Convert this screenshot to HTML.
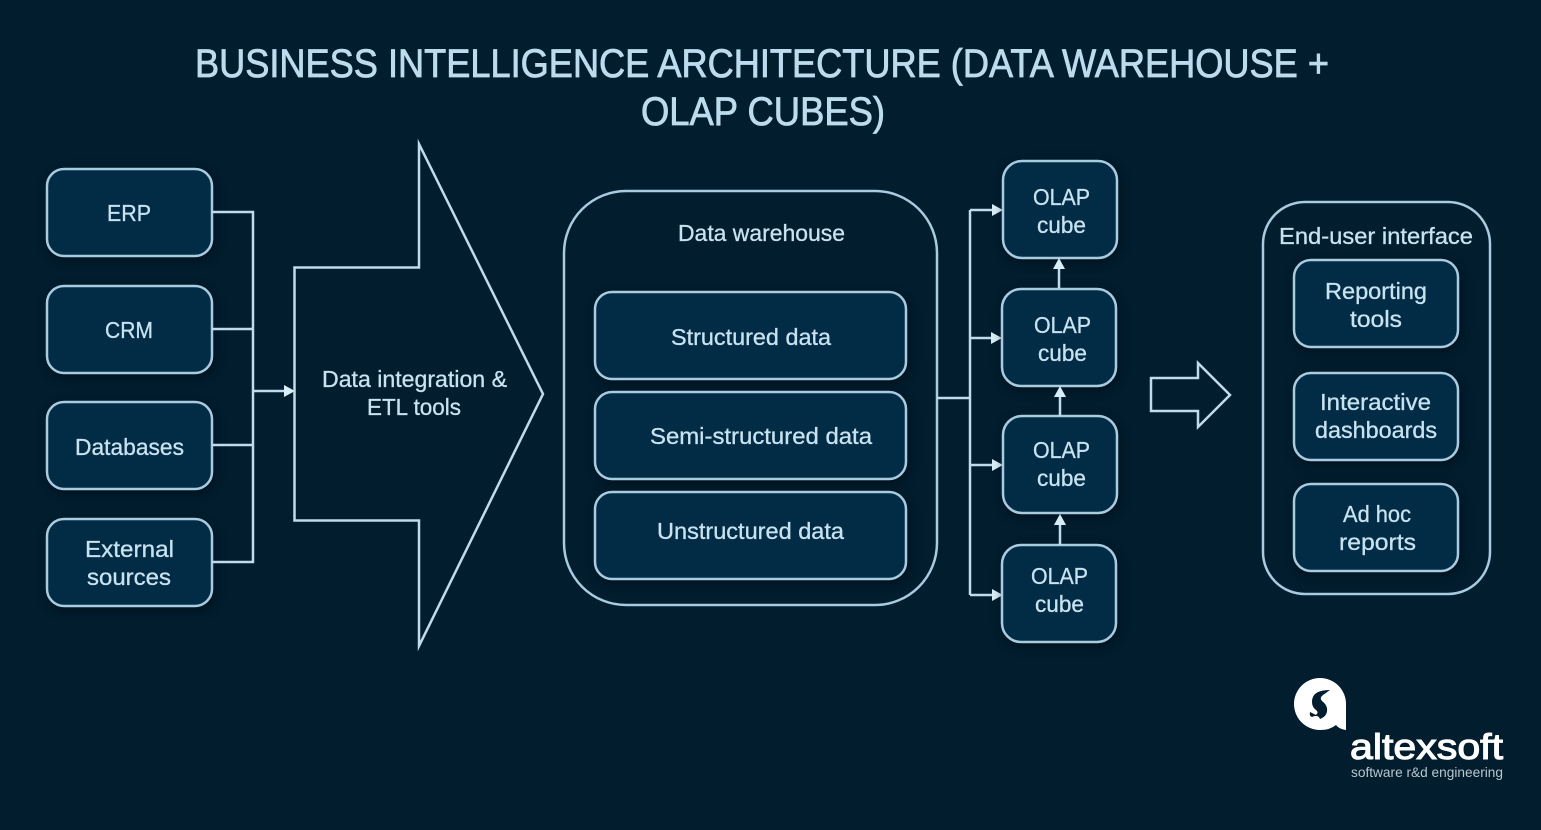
<!DOCTYPE html>
<html lang="en"><head><meta charset="utf-8"><title>Business Intelligence Architecture</title>
<style>
html,body{margin:0;padding:0;background:#011d2e}
svg{display:block}
text{font-family:"Liberation Sans",sans-serif;fill:#c8e2f0;letter-spacing:0}
.l{font-size:23px;text-anchor:start;stroke:#c8e2f0;stroke-width:.3px}
.t{font-size:40px;fill:#bcdcee;stroke:#bcdcee;stroke-width:.8px}
.b{fill:#022c45;stroke:#a9cbdf;stroke-width:2.5;filter:drop-shadow(2px 3px 5px rgba(0,8,16,.55))}
.n{fill:none;stroke:#c0dcec;stroke-width:2.5;stroke-miterlimit:12}
.o{fill:#011d2e;stroke:#a9cbdf;stroke-width:2.5}
.a{fill:#d8edf7}
</style></head>
<body>
<svg width="1541" height="830" viewBox="0 0 1541 830" xmlns="http://www.w3.org/2000/svg">
<rect width="1541" height="830" fill="#011d2e"/>

<text class="t" x="195" y="77" textLength="1134" lengthAdjust="spacingAndGlyphs">BUSINESS INTELLIGENCE ARCHITECTURE (DATA WAREHOUSE +</text>
<text class="t" x="641" y="125" textLength="244" lengthAdjust="spacingAndGlyphs">OLAP CUBES)</text>

<!-- source boxes -->
<rect class="b" x="47" y="169" width="165" height="87" rx="17"/>
<rect class="b" x="47" y="286" width="165" height="87" rx="17"/>
<rect class="b" x="47" y="402" width="165" height="87" rx="17"/>
<rect class="b" x="47" y="519" width="165" height="87" rx="17"/>
<text class="l" x="107" y="221" textLength="44" lengthAdjust="spacingAndGlyphs">ERP</text>
<text class="l" x="105" y="338" textLength="48" lengthAdjust="spacingAndGlyphs">CRM</text>
<text class="l" x="75" y="455" textLength="109" lengthAdjust="spacingAndGlyphs">Databases</text>
<text class="l" x="85" y="557" textLength="89" lengthAdjust="spacingAndGlyphs">External</text>
<text class="l" x="87" y="585" textLength="84" lengthAdjust="spacingAndGlyphs">sources</text>

<path class="n" d="M212 212H253V562H212M212 329H253M212 445H253M253 391H286"/>
<polygon class="a" points="295,391 284,385 284,397"/>

<!-- ETL arrow -->
<polygon class="n" points="294.500,267.500 419,267.500 419,144 543,394 419,646 419,520.500 294.500,520.500"/>
<text class="l" x="322" y="387" textLength="185" lengthAdjust="spacingAndGlyphs">Data integration &amp;</text>
<text class="l" x="367" y="415" textLength="94" lengthAdjust="spacingAndGlyphs">ETL tools</text>

<!-- warehouse -->
<rect class="o" x="564" y="191" width="373" height="414" rx="62"/>
<text class="l" x="678" y="241" textLength="167" lengthAdjust="spacingAndGlyphs">Data warehouse</text>
<rect class="b" x="595" y="292" width="311" height="87" rx="17"/>
<rect class="b" x="595" y="392" width="311" height="87" rx="17"/>
<rect class="b" x="595" y="492" width="311" height="87" rx="17"/>
<text class="l" x="671" y="345" textLength="160" lengthAdjust="spacingAndGlyphs">Structured data</text>
<text class="l" x="650" y="444" textLength="222" lengthAdjust="spacingAndGlyphs">Semi-structured data</text>
<text class="l" x="657" y="539" textLength="187" lengthAdjust="spacingAndGlyphs">Unstructured data</text>

<!-- connectors to cubes -->
<path class="n" d="M937 398H970M970 210V595M970 210H994M970 338H994M970 465H994M970 595H994"/>
<polygon class="a" points="1003,210 992,204 992,216"/>
<polygon class="a" points="1002,338 991,332 991,344"/>
<polygon class="a" points="1003,465 992,459 992,471"/>
<polygon class="a" points="1003,595 992,589 992,601"/>

<!-- cubes -->
<rect class="b" x="1003" y="161" width="114" height="97" rx="19"/>
<rect class="b" x="1002" y="289" width="114" height="97" rx="19"/>
<rect class="b" x="1003" y="416" width="114" height="97" rx="19"/>
<rect class="b" x="1002" y="545" width="114" height="97" rx="19"/>
<path class="n" d="M1059 288V268M1060 416V396M1060 545V524"/>
<polygon class="a" points="1059,258 1053,269 1065,269"/>
<polygon class="a" points="1060,386 1054,397 1066,397"/>
<polygon class="a" points="1060,514 1054,525 1066,525"/>
<text class="l" x="1033" y="205" textLength="57" lengthAdjust="spacingAndGlyphs">OLAP</text>
<text class="l" x="1037" y="233" textLength="49" lengthAdjust="spacingAndGlyphs">cube</text>
<text class="l" x="1034" y="333" textLength="57" lengthAdjust="spacingAndGlyphs">OLAP</text>
<text class="l" x="1038" y="361" textLength="49" lengthAdjust="spacingAndGlyphs">cube</text>
<text class="l" x="1033" y="458" textLength="57" lengthAdjust="spacingAndGlyphs">OLAP</text>
<text class="l" x="1037" y="486" textLength="49" lengthAdjust="spacingAndGlyphs">cube</text>
<text class="l" x="1031" y="584" textLength="57" lengthAdjust="spacingAndGlyphs">OLAP</text>
<text class="l" x="1035" y="612" textLength="49" lengthAdjust="spacingAndGlyphs">cube</text>

<!-- big arrow -->
<polygon class="n" points="1151,378 1198,378 1198,363 1230,395 1198,427 1198,411 1151,411"/>

<!-- end-user -->
<rect class="o" x="1263" y="202" width="227" height="392" rx="42"/>
<text class="l" x="1279" y="244" textLength="194" lengthAdjust="spacingAndGlyphs">End-user interface</text>
<rect class="b" x="1294" y="260" width="164" height="87" rx="17"/>
<rect class="b" x="1294" y="373" width="164" height="87" rx="17"/>
<rect class="b" x="1294" y="484" width="164" height="87" rx="17"/>
<text class="l" x="1325" y="299" textLength="102" lengthAdjust="spacingAndGlyphs">Reporting</text>
<text class="l" x="1350" y="327" textLength="52" lengthAdjust="spacingAndGlyphs">tools</text>
<text class="l" x="1320" y="410" textLength="111" lengthAdjust="spacingAndGlyphs">Interactive</text>
<text class="l" x="1315" y="438" textLength="122" lengthAdjust="spacingAndGlyphs">dashboards</text>
<text class="l" x="1343" y="522" textLength="68" lengthAdjust="spacingAndGlyphs">Ad hoc</text>
<text class="l" x="1339" y="550" textLength="77" lengthAdjust="spacingAndGlyphs">reports</text>

<!-- logo -->
<path fill="#fff" d="M1346 730V704A26 26 0 1 0 1320 730Q1330 730 1336 725Q1339 729 1346 730Z"/>
<path fill="#011d2e" d="M1318 692Q1312 695 1312 702Q1312 707 1316 710Q1319 712 1316 715L1310 712Q1309 716 1312 717Q1318 714 1320 719Q1328 716 1327 708Q1326 704 1322 701Q1319 698 1323 695L1330 690Q1323 690 1318 692Z"/>
<text x="1350" y="759" textLength="153" lengthAdjust="spacingAndGlyphs" style="font-size:36px;fill:#fff;stroke:#fff;stroke-width:1.1px">altexsoft</text>
<text x="1351" y="777" textLength="152" lengthAdjust="spacingAndGlyphs" style="font-size:14px;fill:#b9c6ce">software r&amp;d engineering</text>
</svg>
</body></html>
